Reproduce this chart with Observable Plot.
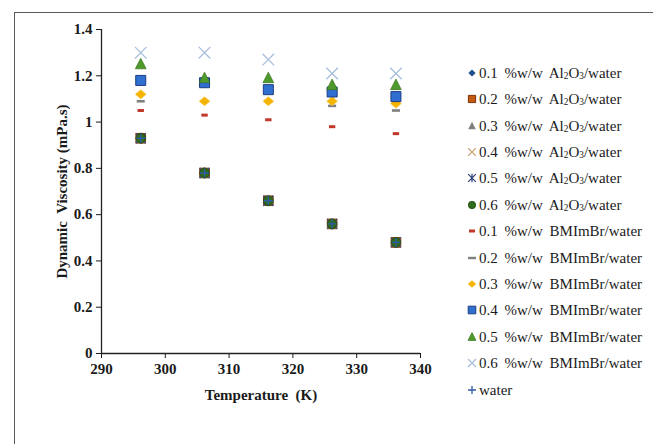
<!DOCTYPE html>
<html><head><meta charset="utf-8">
<script src="https://cdn.jsdelivr.net/npm/d3@7"></script>
<script src="https://cdn.jsdelivr.net/npm/@observablehq/plot@0.6"></script>
<style>
html,body{margin:0;padding:0;background:#fff;width:653px;height:444px;overflow:hidden;}
#frame{position:absolute;left:14px;top:12px;width:700px;height:500px;border:1.5px solid #5a5a5a;box-sizing:border-box;}
#chart{position:absolute;left:0;top:0;}
#legend{position:absolute;left:0;top:0;font-family:"Liberation Serif",serif;font-size:15px;word-spacing:3px;color:#1a1a1a;}
.item{position:absolute;white-space:nowrap;height:20px;line-height:20px;}
.item svg{position:absolute;left:0;top:3px;}
.item span.t{position:absolute;left:7px;top:0;}
.sub{font-size:0.62em;vertical-align:-0.12em;}
</style>
</head><body>
<div id="frame"></div>
<div id="chart"></div>
<div id="legend"></div>
<script>
// ---- data ----
const temps = [296.15, 306.15, 316.15, 326.15, 336.15];
const al01 = [0.93, 0.78, 0.66, 0.56, 0.48];
const al02 = [0.93, 0.78, 0.66, 0.56, 0.48];
const al03 = [0.93, 0.78, 0.66, 0.56, 0.48];
const al04 = [0.93, 0.78, 0.66, 0.56, 0.48];
const al05 = [0.93, 0.78, 0.66, 0.56, 0.48];
const al06 = [0.93, 0.78, 0.66, 0.56, 0.48];
const bm01 = [1.05, 1.03, 1.01, 0.98, 0.95];
const bm02 = [1.09, 1.09, 1.09, 1.07, 1.05];
const bm03 = [1.12, 1.09, 1.09, 1.09, 1.08];
const bm04 = [1.18, 1.17, 1.14, 1.13, 1.11];
const bm05 = [1.25, 1.19, 1.19, 1.16, 1.16];
const bm06 = [1.30, 1.30, 1.27, 1.21, 1.21];
const water = [0.93, 0.78, 0.66, 0.56, 0.48];
const seriesNames = [
  "0.1 %w/w Al2O3/water", "0.2 %w/w Al2O3/water", "0.3 %w/w Al2O3/water",
  "0.4 %w/w Al2O3/water", "0.5 %w/w Al2O3/water", "0.6 %w/w Al2O3/water",
  "0.1 %w/w BMImBr/water", "0.2 %w/w BMImBr/water", "0.3 %w/w BMImBr/water",
  "0.4 %w/w BMImBr/water", "0.5 %w/w BMImBr/water", "0.6 %w/w BMImBr/water",
  "water"
];
const xTicks = [290, 300, 310, 320, 330, 340];
const yTicks = [0, 0.2, 0.4, 0.6, 0.8, 1, 1.2, 1.4];

// ---- symbols ----
const sym = f => ({draw: (c) => f(c)});
const S = {
  diamond: (ax, ay) => sym(c => {c.moveTo(0,-ay);c.lineTo(ax,0);c.lineTo(0,ay);c.lineTo(-ax,0);c.closePath();}),
  square: a => sym(c => {c.rect(-a,-a,2*a,2*a);}),
  triangle: a => sym(c => {c.moveTo(0,-a*1.1);c.lineTo(a,a*0.85);c.lineTo(-a,a*0.85);c.closePath();}),
  times: a => sym(c => {c.moveTo(-a,-a);c.lineTo(a,a);c.moveTo(a,-a);c.lineTo(-a,a);}),
  asterisk: a => sym(c => {c.moveTo(-a,-a);c.lineTo(a,a);c.moveTo(a,-a);c.lineTo(-a,a);c.moveTo(0,-a*1.1);c.lineTo(0,a*1.1);}),
  plus: a => sym(c => {c.moveTo(-a,0);c.lineTo(a,0);c.moveTo(0,-a);c.lineTo(0,a);}),
  circle: a => sym(c => {c.moveTo(a,0);c.arc(0,0,a,0,2*Math.PI);}),
  dash: (w,h) => sym(c => {c.rect(-w,-h,2*w,2*h);})
};

const values = [al01, al02, al03, al04, al05, al06, bm01, bm02, bm03, bm04, bm05, bm06, water];
const styles = [
  {p: S.diamond(5,5), l: S.diamond(3.6,3.6), fill:"#1f4e8c", stroke:"none"},
  {p: S.square(4.8), l: S.square(3.6), fill:"#c55a11", stroke:"#7a3208", sw:1},
  {p: S.triangle(5.2), l: S.triangle(3.8), fill:"#7f7f7f", stroke:"none"},
  {p: S.times(5), l: S.times(3.8), fill:"none", stroke:"#c9a36b", sw:1.2},
  {p: S.asterisk(5), l: S.asterisk(3.8), fill:"none", stroke:"#2e3f78", sw:1.2},
  {p: S.circle(4.8), l: S.circle(3.7), fill:"#2f6b1c", stroke:"#1f4a12", sw:0.8},
  {p: S.dash(3.2,1.5), l: S.dash(3,1.5), fill:"#c0392b", stroke:"none"},
  {p: S.dash(4,1.3), l: S.dash(4,1.2), fill:"#7f7f7f", stroke:"none"},
  {p: S.diamond(5.5,4.6), l: S.diamond(4,3.6), fill:"#f5b400", stroke:"#f8cf60", sw:0.6},
  {p: S.square(5), l: S.square(3.8), fill:"#2f6fd0", stroke:"#1c3c82", sw:1},
  {p: S.triangle(5.4), l: S.triangle(4), fill:"#4e9a2a", stroke:"#3a7420", sw:0.7},
  {p: S.times(5.8), l: S.times(4), fill:"none", stroke:"#a9bfdc", sw:1.3},
  {p: S.plus(4.5), l: S.plus(4), fill:"none", stroke:"#2f5aa8", sw:1.3}
];
const rows = seriesNames.flatMap((name, k) => temps.map((t, i) => ({series: name, k, T: t, v: values[k][i]})));

const marks = [
  Plot.axisX({ticks: xTicks, tickSize: 5, tickPadding: 5, tickFormat: d => String(d), label: "Temperature  (K)", labelAnchor: "center", labelOffset: 46, labelArrow: "none"}),
  Plot.axisY({ticks: yTicks, tickSize: 5, tickPadding: 4, tickFormat: d => String(d), label: "Dynamic  Viscosity (mPa.s)", labelAnchor: "center", labelOffset: 45, labelArrow: "none"}),
  Plot.ruleX([290], {stroke: "#222", strokeWidth: 1.3}),
  Plot.ruleY([0], {stroke: "#222", strokeWidth: 1.3}),
  ...styles.map((st, k) => Plot.dot(rows.filter(d => d.k === k), {
    x: "T", y: "v", r: 3, symbol: st.p, fill: st.fill, stroke: st.stroke, strokeWidth: st.sw || 1
  }))
];

const chart = Plot.plot({
  width: 440, height: 420,
  marginLeft: 101, marginRight: 20, marginTop: 29, marginBottom: 67,
  x: {domain: [290, 340]},
  y: {domain: [0, 1.4]},
  style: {fontFamily: "Liberation Serif, serif", fontSize: "15px", fontWeight: "bold", color: "#1a1a1a", background: "transparent"},
  marks
});
document.getElementById("chart").appendChild(chart);

// ---- legend ----
const legend = document.getElementById("legend");
const fmt = s => s.replace("Al2O3", 'Al<span class="sub">2</span>O<span class="sub">3</span>');
seriesNames.forEach((name, k) => {
  const st = styles[k];
  const div = document.createElement("div");
  div.className = "item";
  div.style.left = "472px";
  div.style.top = (72.7 + 26.4 * k - 10) + "px";
  const p = d3.path(); st.l.draw(p);
  div.innerHTML = `<svg width="14" height="14" viewBox="-7 -7 14 14" style="left:-7px"><path d="${p}" fill="${st.fill}" stroke="${st.stroke}" stroke-width="${st.sw || 1}"/></svg><span class="t">${fmt(name)}</span>`;
  legend.appendChild(div);
});
</script>
</body></html>
